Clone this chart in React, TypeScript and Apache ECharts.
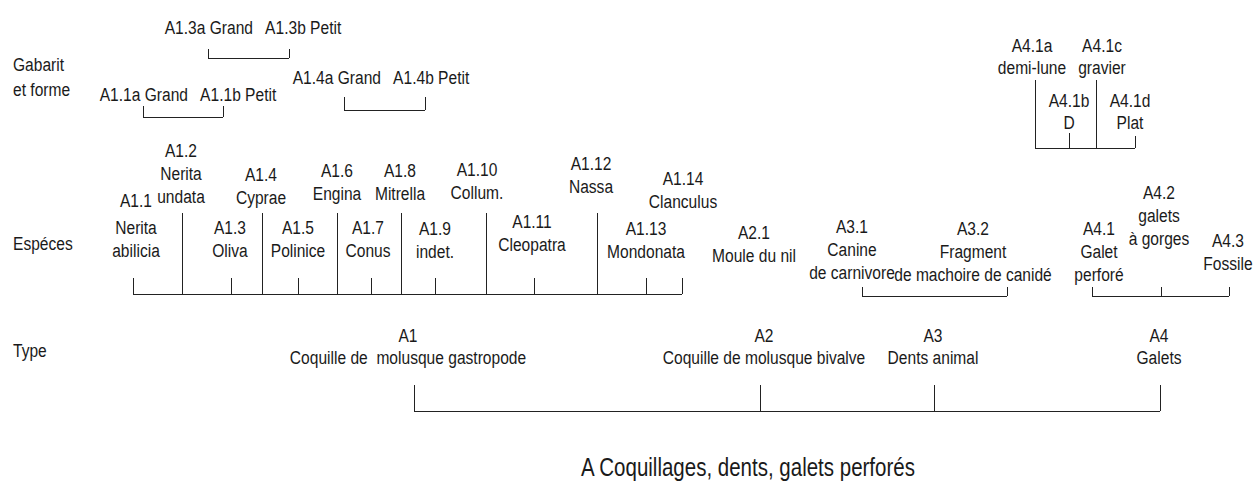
import React, { useEffect, useRef } from "react";
import * as echarts from "echarts";

const W = 1253;
const H = 488;

// [text, x, y]  (diagram coordinates)
const rowTitles: [string, number, number][] = [
  ["Gabarit\net forme", 13, 77],
  ["Espéces", 13, 243],
  ["Type", 13, 350],
];

const gabaritLabels: [string, number, number][] = [
  ["A1.3a Grand   A1.3b Petit", 253, 27],
  ["A1.1a Grand   A1.1b Petit", 188, 94],
  ["A1.4a Grand   A1.4b Petit", 381, 77],
  ["A4.1a\ndemi-lune", 1032, 56],
  ["A4.1c\ngravier", 1102, 56],
  ["A4.1b\nD", 1069, 111],
  ["A4.1d\nPlat", 1130, 111],
];

const especeLabels: [string, number, number][] = [
  ["A1.1", 136, 200],
  ["Nerita\nabilicia", 136, 239],
  ["A1.2\nNerita\nundata", 181, 173],
  ["A1.3\nOliva", 230, 239],
  ["A1.4\nCyprae", 261, 186],
  ["A1.5\nPolinice", 298, 239],
  ["A1.6\nEngina", 337, 182],
  ["A1.7\nConus", 368, 239],
  ["A1.8\nMitrella", 400, 182],
  ["A1.9\nindet.", 435, 240],
  ["A1.10\nCollum.", 477, 181],
  ["A1.11\nCleopatra", 532, 233],
  ["A1.12\nNassa", 591, 175],
  ["A1.13\nMondonata", 646, 240],
  ["A1.14\nClanculus", 683, 190],
  ["A2.1\nMoule du nil", 754, 244],
  ["A3.1\nCanine\nde carnivore", 852, 249],
  ["A3.2\nFragment\nde machoire de canidé", 973, 251],
  ["A4.1\nGalet\nperforé", 1099, 251],
  ["A4.2\ngalets\nà gorges", 1159, 215],
  ["A4.3\nFossile", 1228, 252],
];

const typeLabels: [string, number, number][] = [
  ["A1\nCoquille de  molusque gastropode", 408, 346],
  ["A2\nCoquille de molusque bivalve", 764, 346],
  ["A3\nDents animal", 933, 346],
  ["A4\nGalets", 1159, 346],
];

const titleLabel: [string, number, number] = ["A Coquillages, dents, galets perforés", 748, 467];

// brackets: base y, stems [x, topY]
const brackets: { base: number; stems: [number, number][] }[] = [
  { base: 58, stems: [[208, 49], [289, 49]] },
  { base: 117, stems: [[143, 106], [223, 106]] },
  { base: 110, stems: [[344, 97], [425, 97]] },
  { base: 148, stems: [[1035, 80], [1069, 133], [1096, 80], [1135, 136]] },
  {
    base: 294,
    stems: [
      [133, 278], [182, 213], [231, 278], [262, 213], [298, 278], [337, 213], [371, 278],
      [401, 213], [435, 278], [486, 213], [534, 278], [597, 213], [646, 278], [682, 278],
    ],
  },
  { base: 296, stems: [[862, 287], [1007, 287]] },
  { base: 296, stems: [[1092, 287], [1161, 287], [1229, 287]] },
  { base: 411, stems: [[414, 385], [760, 385], [934, 385], [1160, 385]] },
];

const FONT = "'Liberation Sans', Arial, sans-serif";
const TEXT_COLOR = "#1a1a1a";
const LINE_COLOR = "#222222";
const NARROW = 0.82;

function textSeries(
  items: [string, number, number][],
  fontSize: number,
  lineHeight: number,
  align: string = "center"
) {
  return {
    type: "custom",
    coordinateSystem: "cartesian2d",
    silent: true,
    data: items.map(([, x, y]) => [x, y]),
    renderItem: (params: any, api: any) => {
      const p = api.coord([api.value(0), api.value(1)]);
      return {
        type: "text",
        x: p[0],
        y: p[1],
        scaleX: NARROW,
        style: {
          text: items[params.dataIndex][0],
          x: 0,
          y: 0,
          align,
          verticalAlign: "middle",
          fontFamily: FONT,
          fontSize,
          lineHeight,
          fill: TEXT_COLOR,
        },
      };
    },
  };
}

export default function App() {
  const ref = useRef<HTMLDivElement>(null);
  useEffect(() => {
    if (!ref.current) return;
    const chart = echarts.init(ref.current, undefined, { renderer: "svg" });
    const segs: any[] = [];
    brackets.forEach((b) => {
      const xs = b.stems.map((s) => s[0]);
      segs.push({ coords: [[Math.min(...xs), b.base], [Math.max(...xs), b.base]] });
      b.stems.forEach(([x, top]) => segs.push({ coords: [[x, top], [x, b.base]] }));
    });
    chart.setOption({
      animation: false,
      backgroundColor: "#ffffff",
      grid: { left: 0, right: 0, top: 0, bottom: 0 },
      xAxis: { type: "value", min: 0, max: W, show: false },
      yAxis: { type: "value", min: 0, max: H, inverse: true, show: false },
      series: [
        {
          type: "lines",
          coordinateSystem: "cartesian2d",
          silent: true,
          lineStyle: { color: LINE_COLOR, width: 1, opacity: 1 },
          data: segs,
        },
        textSeries(rowTitles, 19, 25, "left"),
        textSeries(gabaritLabels, 19, 22),
        textSeries(especeLabels, 19, 23),
        textSeries(typeLabels, 19, 22),
        textSeries([titleLabel], 25, 30),
      ],
    });
    return () => chart.dispose();
  }, []);
  return (
    <div
      ref={ref}
      style={{ position: "absolute", left: 0, top: 0, width: W, height: H }}
    />
  );
}
